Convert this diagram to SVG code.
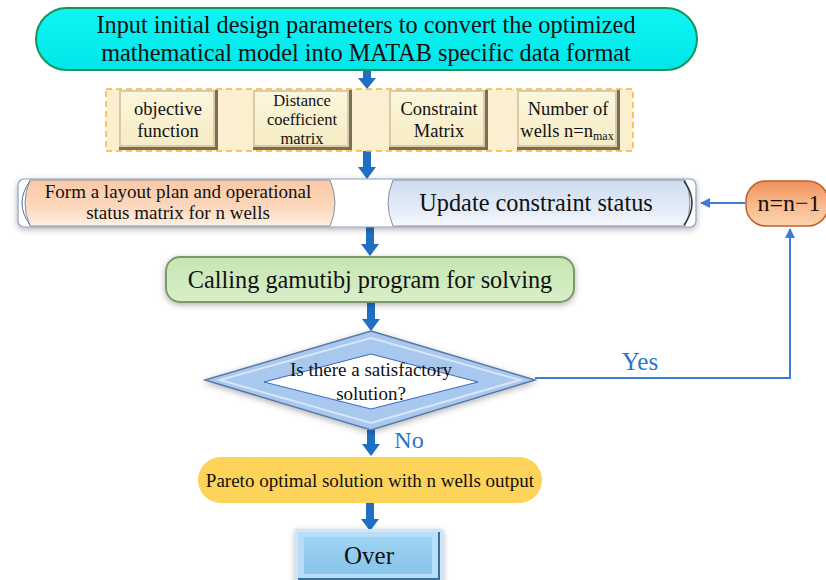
<svg xmlns="http://www.w3.org/2000/svg" width="826" height="580" viewBox="0 0 826 580" font-family="'Liberation Serif', serif">
<defs>
<style>
text{font-family:'Liberation Serif',serif}
.t{fill:#111;text-anchor:middle}
.blue{fill:#1f6fc5;stroke:none}
.thin{stroke:#3a7fd5;stroke-width:2;fill:none}
</style>
<linearGradient id="cyan" x1="0" y1="0" x2="0" y2="1"><stop offset="0" stop-color="#10f4f4"/><stop offset="1" stop-color="#00e6e8"/></linearGradient>
<linearGradient id="tan" x1="0" y1="0" x2="0" y2="1"><stop offset="0" stop-color="#fcf6dc"/><stop offset="1" stop-color="#f6ecc4"/></linearGradient>
<linearGradient id="peach" x1="0" y1="0" x2="0" y2="1"><stop offset="0" stop-color="#fbc9a6"/><stop offset="0.6" stop-color="#fcd8bd"/><stop offset="1" stop-color="#fff0e2"/></linearGradient>
<linearGradient id="ice" x1="0" y1="0" x2="0" y2="1"><stop offset="0" stop-color="#cfdcf0"/><stop offset="0.6" stop-color="#e2eaf7"/><stop offset="1" stop-color="#f6f9fd"/></linearGradient>
<linearGradient id="green" x1="0" y1="0" x2="0" y2="1"><stop offset="0" stop-color="#c6e6b2"/><stop offset="1" stop-color="#d8efc8"/></linearGradient>
<linearGradient id="orange" x1="0" y1="0" x2="0" y2="1"><stop offset="0" stop-color="#f0915a"/><stop offset="0.5" stop-color="#f9b88a"/><stop offset="1" stop-color="#fcd2b0"/></linearGradient>
<linearGradient id="sky" x1="0" y1="0" x2="0" y2="1"><stop offset="0" stop-color="#9fd3f2"/><stop offset="1" stop-color="#88c4ea"/></linearGradient>
<filter id="sh" x="-10%" y="-20%" width="120%" height="150%"><feDropShadow dx="0" dy="2" stdDeviation="3" flood-color="#000" flood-opacity="0.3"/></filter>
<marker id="ah" markerWidth="10" markerHeight="10" refX="9" refY="5" orient="auto" markerUnits="userSpaceOnUse"><path d="M0,0 L10,5 L0,10 Z" fill="#3a7fd5"/></marker>
</defs>
<rect width="826" height="580" fill="#fff"/>

<g id="connectors">
  <path class="blue" d="M363,70 h8 v8 h5 l-9,11 l-9,-11 h5 z"/>
  <path class="blue" d="M363,151 h8 v16 h5 l-9,12 l-9,-12 h5 z"/>
  <path class="blue" d="M366,227 h8 v17 h5 l-9,12 l-9,-12 h5 z"/>
  <path class="blue" d="M367,302 h8 v17 h5 l-9,12 l-9,-12 h5 z"/>
  <path class="blue" d="M367,430 h8 v14 h5 l-9,12 l-9,-12 h5 z"/>
  <path class="blue" d="M366,503 h8 v16 h5 l-9,12 l-9,-12 h5 z"/>
  <path d="M340,199 h30 v-7 l14,11 l-14,11 v-7 h-30 z" fill="#d8ecd0" stroke="#c4dcbc" stroke-width="1"/>
  <line x1="745" y1="203" x2="701" y2="203" class="thin" marker-end="url(#ah)"/>
  <polyline points="535,378 790,378 790,229" class="thin" marker-end="url(#ah)"/>
  <text x="640" y="370" class="t" style="fill:#2a74cc;font-size:25px">Yes</text>
  <text x="409" y="448" class="t" style="fill:#2a74cc;font-size:24px">No</text>
</g>

<g id="input">
  <rect x="36" y="8" width="661" height="62" rx="31" fill="url(#cyan)" stroke="#16955a" stroke-width="2"/>
  <text class="t" x="366" y="33" font-size="24.3">Input initial design parameters to convert the optimized</text>
  <text class="t" x="366" y="61" font-size="24.3">mathematical model into MATAB specific data format</text>
</g>

<g id="params">
  <rect x="106" y="89" width="527" height="62" fill="#fcefd0" stroke="#f5b53a" stroke-width="1.5" stroke-dasharray="6,4"/>
  <g id="objective">
    <rect x="119" y="90" width="99" height="60" fill="#7a6e58"/>
    <rect x="119" y="90" width="96" height="57" fill="#d8cba8"/>
    <rect x="121" y="92" width="92" height="53" fill="url(#tan)"/>
    <text class="t" x="168" y="115" font-size="18.5">objective</text>
    <text class="t" x="168" y="137" font-size="18.5">function</text>
  </g>
  <g id="distance">
    <rect x="253" y="90" width="99" height="60" fill="#7a6e58"/>
    <rect x="253" y="90" width="96" height="57" fill="#d8cba8"/>
    <rect x="255" y="92" width="92" height="53" fill="url(#tan)"/>
    <text class="t" x="302" y="106" font-size="16.5">Distance</text>
    <text class="t" x="302" y="125" font-size="16.5">coefficient</text>
    <text class="t" x="302" y="144" font-size="16.5">matrix</text>
  </g>
  <g id="constraint">
    <rect x="389" y="90" width="99" height="60" fill="#7a6e58"/>
    <rect x="389" y="90" width="96" height="57" fill="#d8cba8"/>
    <rect x="391" y="92" width="92" height="53" fill="url(#tan)"/>
    <text class="t" x="439" y="115" font-size="18.5">Constraint</text>
    <text class="t" x="439" y="137" font-size="18.5">Matrix</text>
  </g>
  <g id="wells">
    <rect x="517" y="90" width="103" height="60" fill="#7a6e58"/>
    <rect x="517" y="90" width="100" height="57" fill="#d8cba8"/>
    <rect x="519" y="92" width="96" height="53" fill="url(#tan)"/>
    <text class="t" x="568" y="115" font-size="18.5">Number of</text>
    <text class="t" x="567" y="137" font-size="18.5">wells n=n<tspan font-size="12" dy="3">max</tspan></text>
  </g>
</g>

<g id="row3">
  <rect x="18" y="179" width="678" height="48" rx="6" fill="#fff" stroke="#8aa0c0" stroke-width="1.2" filter="url(#sh)"/>
  <g id="layout">
    <path d="M30,180 H330 Q340,203 330,226 H30 Q20,203 30,180 Z" fill="url(#peach)" stroke="#8a8f9a" stroke-width="1"/>
    <path d="M30,181 Q14,203 30,225" fill="none" stroke="#4a6fb0" stroke-width="1"/>
    <text class="t" x="178" y="198" font-size="19">Form a layout plan and operational</text>
    <text class="t" x="178" y="219" font-size="19">status matrix for n wells</text>
  </g>
  <g id="update">
    <path d="M393,180 H685 Q695,203 685,226 H393 Q383,203 393,180 Z" fill="url(#ice)" stroke="#8a8f9a" stroke-width="1"/>
    <path d="M684,181 Q700,203 684,225" fill="none" stroke="#333" stroke-width="1.5"/>
    <text class="t" x="536" y="211" font-size="24.3">Update constraint status</text>
  </g>
</g>

<g id="decrement">
  <rect x="746" y="181" width="82" height="45" rx="20" fill="url(#orange)" stroke="#c0602a" stroke-width="1.5"/>
  <text class="t" x="789" y="211" font-size="24">n=n−1</text>
</g>

<g id="calling">
  <rect x="166" y="257" width="408" height="45" rx="14" fill="url(#green)" stroke="#7a9a6a" stroke-width="2" filter="url(#sh)"/>
  <text class="t" x="370" y="288" font-size="24.3">Calling gamutibj program for solving</text>
</g>

<g id="decision">
  <polygon points="371,331 535,380 371,430 205,380" fill="#a9c8ee" stroke="#5a78a8" stroke-width="1.5" filter="url(#sh)"/>
  <polygon points="371,338 520,380 371,423 220,380" fill="none" stroke="#d8e6f8" stroke-width="2"/>
  <polygon points="371,354 478,382 371,409 264,382" fill="#fff" stroke="#3a6ac0" stroke-width="1"/>
  <text class="t" x="371" y="376" font-size="19">Is there a satisfactory</text>
  <text class="t" x="371" y="400" font-size="19">solution?</text>
</g>

<g id="pareto">
  <rect x="198" y="457" width="344" height="46" rx="23" fill="#fdd35a"/>
  <text class="t" x="370" y="487" font-size="19">Pareto optimal solution with n wells output</text>
</g>

<g id="over">
  <rect x="295" y="529" width="148" height="53" fill="#cfe6f8" filter="url(#sh)"/>
  <rect x="298" y="532" width="142" height="48" fill="#3c6e98"/>
  <rect x="298" y="532" width="140" height="46" fill="#b8defa"/>
  <rect x="304" y="537" width="128" height="37" fill="url(#sky)"/>
  <text class="t" x="369" y="564" font-size="25">Over</text>
</g>
</svg>
